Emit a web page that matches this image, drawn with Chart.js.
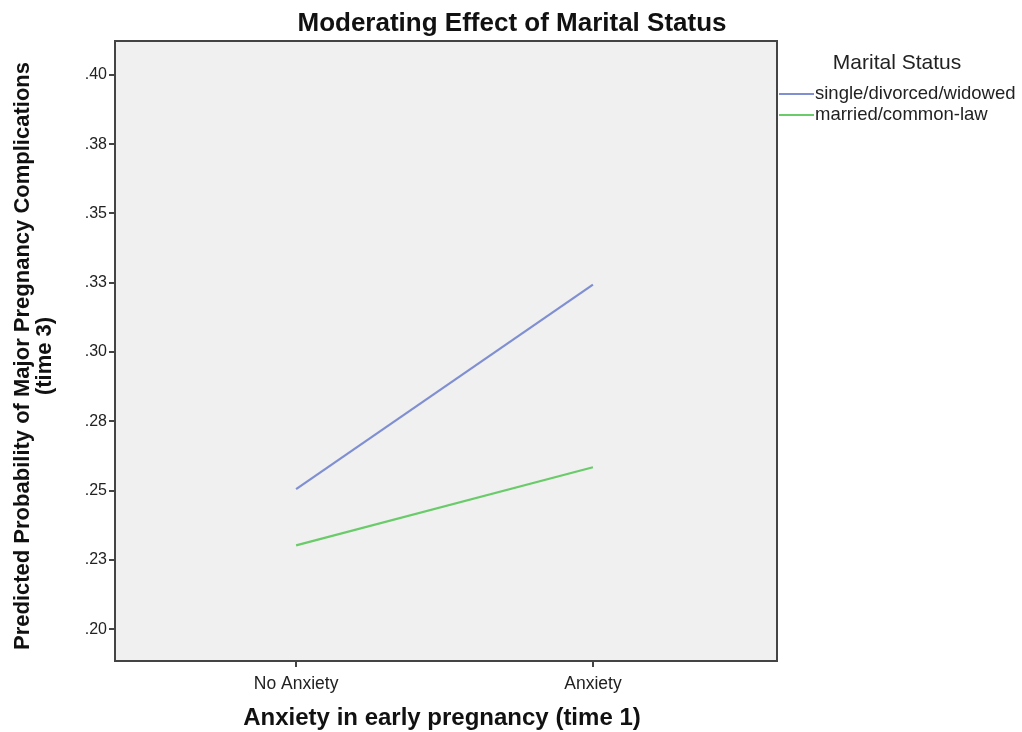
<!DOCTYPE html>
<html>
<head>
<meta charset="utf-8">
<script src="https://cdn.jsdelivr.net/npm/chart.js@4.4.1/dist/chart.umd.min.js"></script>
<style>
  html, body { margin: 0; padding: 0; background: #fff; }
  #wrap { width: 1022px; height: 732px; }
</style>
</head>
<body>
<div id="wrap"><canvas id="chart" width="1022" height="732"></canvas></div>
<script>
// categories on the x axis
const categories = ['No Anxiety', 'Anxiety'];
// predicted probabilities for each marital status group
const singleValues = [0.2505, 0.3243];
const marriedValues = [0.2302, 0.2584];
const seriesNames = ['single/divorced/widowed', 'married/common-law'];
const seriesColors = ['#7f8fd2', '#6acb6a'];
// y ticks and their printed labels
const yTicks = [0.200, 0.225, 0.250, 0.275, 0.300, 0.325, 0.350, 0.375, 0.400];
const yTickLabels = ['.20', '.23', '.25', '.28', '.30', '.33', '.35', '.38', '.40'];

const FONT = '"Liberation Sans", Arial, sans-serif';

function toPoints(values) {
    return values.map((v, i) => ({ x: i, y: v }));
}

// background, frame, titles and legend
const decorations = {
    id: 'decorations',
    beforeDraw(chart) {
        const ctx = chart.ctx;
        const a = chart.chartArea;
        ctx.save();
        ctx.fillStyle = '#f0f0f0';
        ctx.fillRect(a.left, a.top, a.right - a.left, a.bottom - a.top);
        ctx.restore();
    },
    afterDraw(chart) {
        const ctx = chart.ctx;
        const a = chart.chartArea;
        ctx.save();
        ctx.strokeStyle = '#444';
        ctx.lineWidth = 2;
        ctx.strokeRect(a.left, a.top, a.right - a.left, a.bottom - a.top);

        // main title
        ctx.fillStyle = '#111';
        ctx.textAlign = 'center';
        ctx.textBaseline = 'middle';
        ctx.font = 'bold 26px ' + FONT;
        ctx.fillText('Moderating Effect of Marital Status', 512, 24);

        // x axis title
        ctx.font = 'bold 24px ' + FONT;
        ctx.fillText('Anxiety in early pregnancy (time 1)', 442, 718);

        // y axis title
        ctx.save();
        ctx.translate(23, 356);
        ctx.rotate(-Math.PI / 2);
        ctx.font = 'bold 22px ' + FONT;
        ctx.fillText('Predicted Probability of Major Pregnancy Complications', 0, 0);
        ctx.fillText('(time 3)', 0, 22);
        ctx.restore();

        // legend
        ctx.fillStyle = '#222';
        ctx.font = '21px ' + FONT;
        ctx.fillText('Marital Status', 897, 63);
        ctx.font = '18.5px ' + FONT;
        ctx.textAlign = 'left';
        chart.data.datasets.forEach((ds, i) => {
            const y = 94 + i * 21;
            ctx.strokeStyle = ds.borderColor;
            ctx.lineWidth = 2;
            ctx.beginPath();
            ctx.moveTo(779, y);
            ctx.lineTo(814, y);
            ctx.stroke();
            ctx.fillStyle = '#222';
            ctx.fillText(ds.label, 815, y);
        });
        ctx.restore();
    }
};

new Chart(document.getElementById('chart'), {
    type: 'line',
    data: {
        datasets: [
            {
                label: seriesNames[0],
                data: toPoints(singleValues),
                borderColor: seriesColors[0],
                borderWidth: 2.2,
                pointRadius: 0,
                fill: false
            },
            {
                label: seriesNames[1],
                data: toPoints(marriedValues),
                borderColor: seriesColors[1],
                borderWidth: 2.2,
                pointRadius: 0,
                fill: false
            }
        ]
    },
    options: {
        responsive: false,
        animation: false,
        events: [],
        layout: { padding: { left: 0, right: 245, top: 41, bottom: 0 } },
        plugins: {
            legend: { display: false },
            title: { display: false },
            tooltip: { enabled: false }
        },
        scales: {
            x: {
                type: 'linear',
                min: -0.61,
                max: 1.62,
                afterBuildTicks: scale => { scale.ticks = categories.map((c, i) => ({ value: i })); },
                afterFit: scale => { scale.height = 71; },
                ticks: {
                    callback: value => categories[value] || '',
                    color: '#222',
                    font: { family: FONT, size: 17.5 },
                    padding: 7,
                    maxRotation: 0
                },
                grid: { drawOnChartArea: false, drawTicks: true, tickLength: 6, color: '#444', lineWidth: 2 },
                border: { display: true, color: '#444', width: 2 }
            },
            y: {
                min: 0.1885,
                max: 0.4122,
                afterBuildTicks: scale => { scale.ticks = yTicks.map(v => ({ value: v })); },
                afterFit: scale => { scale.width = 115; },
                ticks: {
                    callback: (value, index) => yTickLabels[index],
                    color: '#222',
                    font: { family: FONT, size: 16 },
                    padding: 2
                },
                grid: { drawOnChartArea: false, drawTicks: true, tickLength: 6, color: '#444', lineWidth: 2 },
                border: { display: true, color: '#444', width: 2 }
            }
        }
    },
    plugins: [decorations]
});
</script>
</body>
</html>
